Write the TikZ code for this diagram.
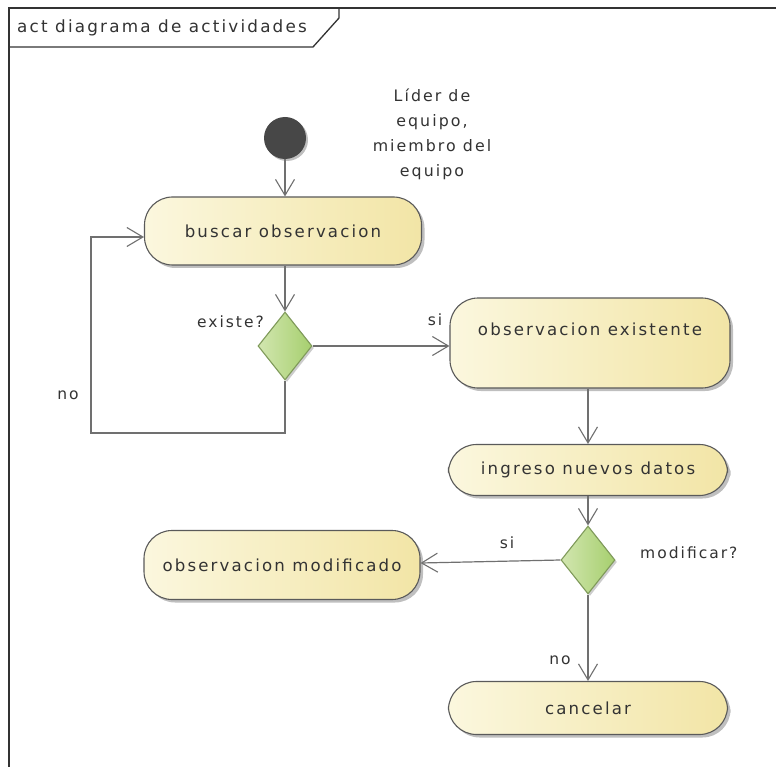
\documentclass[tikz,border=0pt]{standalone}
\usepackage{fontspec}
\setmainfont{DejaVu Sans}[LetterSpace=13]
\usetikzlibrary{arrows.meta,shapes.geometric,shadows}
\definecolor{txt}{HTML}{333333}
\definecolor{edge}{HTML}{707070}
\definecolor{bord}{HTML}{5A5A5A}
\definecolor{boxL}{HTML}{FBF7DE}
\definecolor{boxR}{HTML}{F2E5A6}
\definecolor{grL}{HTML}{D2E6B0}
\definecolor{grR}{HTML}{A6CF6E}
\definecolor{grB}{HTML}{7F9A5A}
\tikzset{
  act/.style={draw=bord, line width=1.1pt, left color=boxL, right color=boxR,
    rounded corners=28pt, inner sep=0pt, font=\fontsize{16.6}{18}\selectfont, text=txt,
    drop shadow={shadow xshift=3pt, shadow yshift=-3pt, opacity=0.25, fill=black}},
  dec/.style={diamond, draw=grB, line width=1.1pt, left color=grL, right color=grR,
    inner sep=0pt, minimum width=54pt, minimum height=68pt,
    drop shadow={shadow xshift=2pt, shadow yshift=-2pt, opacity=0.2, fill=black}},
  flow/.style={draw=edge, line width=1.2pt, -{Straight Barb[length=16pt,width=19pt,line width=1.1pt]}},
  lbl/.style={font=\fontsize{15.5}{17}\selectfont, text=txt, inner sep=0pt},
}
\begin{document}
\begin{tikzpicture}[x=1pt,y=-1pt]
\useasboundingbox (0,0) rectangle (776,767);
\fill[white] (0,0) rectangle (776,767);
% frame
\draw[line width=1.6pt, draw=txt] (9,767) -- (9,8) -- (776,8);
\draw[line width=1.3pt, draw=txt] (9,47) -- (313,47) -- (339,18) -- (339,8);
\node[lbl, anchor=west, font=\fontsize{16.8}{18}\selectfont] (title) at (17,28) {act diagrama de actividades};
% actor note
\node[lbl, align=center, font=\fontsize{15.8}{25}\selectfont] (actor) at (432,134) {Líder de\\equipo,\\miembro del\\equipo};
% initial
\node[circle, fill=black!72, minimum size=42pt, inner sep=0pt,
  drop shadow={shadow xshift=2pt, shadow yshift=-2pt, opacity=0.25, fill=black}] (init) at (285,138) {};
% activities
\node[act, minimum width=277pt, minimum height=68pt] (buscar) at (283,231) {buscar observacion};
\node[dec] (d1) at (285,346) {};
\node[act, minimum width=280pt, minimum height=90pt] (oe) at (590,343) {};
\node[lbl, font=\fontsize{16.6}{18}\selectfont] (oet) at (590,329) {observacion existente};
\node[act, minimum width=279pt, minimum height=51pt] (ing) at (588,470) {ingreso nuevos datos};
\node[dec] (d2) at (588,560) {};
\node[act, minimum width=276pt, minimum height=69pt] (om) at (282,565) {observacion modificado};
\node[act, minimum width=279pt, minimum height=53pt] (can) at (588,708) {cancelar};
% labels
\node[lbl, anchor=east] (lex) at (264,322) {existe?};
\node[lbl] (lsi1) at (435,320) {si};
\node[lbl] (lno1) at (68,395) {no};
\node[lbl] (lsi2) at (507,543) {si};
\node[lbl, anchor=west] (lmod) at (640,553) {modificar?};
\node[lbl] (lno2) at (560,660) {no};
% flows
\coordinate (lp) at (91,433);
\draw[flow] (init) -- (buscar.north -| init);
\draw[flow] (buscar.south -| d1) -- (d1.north);
\draw[flow] (d1.east) -- (d1.east -| oe.west);
\draw[flow] (d1.south) |- (lp) |- ([yshift=-6pt]buscar.west);
\draw[flow] (oe.south -| d2) -- (ing.north -| d2);
\draw[flow] (ing.south -| d2) -- (d2.north);
\draw[flow] (d2.west) -- ([yshift=2pt]om.east);
\draw[flow] (d2.south) -- (can.north -| d2);
\end{tikzpicture}
\end{document}
